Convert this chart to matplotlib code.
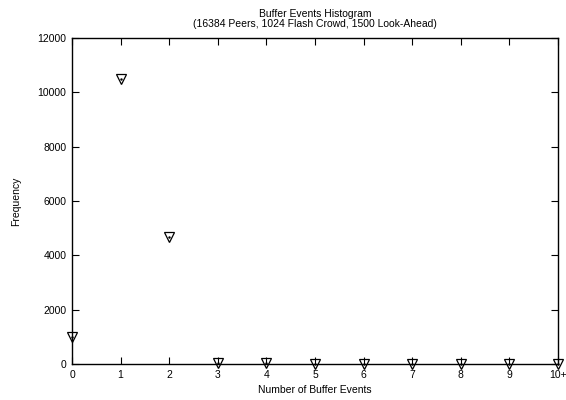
import numpy as np
import matplotlib.pyplot as plt

plt.rcParams['font.family'] = ['Liberation Sans', 'DejaVu Sans']

events = np.arange(11)
tick_labels = ['0', '1', '2', '3', '4', '5', '6', '7', '8', '9', '10+']
frequency = [1000, 10500, 4680, 55, 20, 12, 8, 6, 5, 4, 3]

fig = plt.figure(figsize=(5.66, 4.0), dpi=100)
ax = fig.add_axes([72 / 566, 36 / 400, (558 - 72) / 566, (364 - 38) / 400])

# open triangles with a dot marking the exact point
ax.plot(events, frequency, linestyle='none', marker='v', markersize=7.5,
        markerfacecolor='none', markeredgecolor='black', markeredgewidth=0.9,
        clip_on=False, zorder=3)
ax.plot(events, frequency, linestyle='none', marker='.', markersize=1.5,
        color='black', clip_on=False, zorder=3)

ax.set_xlim(0, 10)
ax.set_ylim(0, 12000)
ax.set_xticks(events)
ax.set_xticklabels(tick_labels)
ax.set_yticks(np.arange(0, 12001, 2000))

ax.tick_params(direction='in', top=True, right=True, length=5, width=0.8,
               labelsize=7.5, pad=4)
for side in ax.spines.values():
    side.set_linewidth(1.0)

ax.set_xlabel('Number of Buffer Events', fontsize=7.5, labelpad=4)
ax.set_ylabel('Frequency', fontsize=7.5, labelpad=12)
ax.set_title('Buffer Events Histogram\n(16384 Peers, 1024 Flash Crowd, 1500 Look-Ahead)',
             fontsize=7.5, pad=8, linespacing=1.0)

fig.savefig('out.png', dpi=100)
